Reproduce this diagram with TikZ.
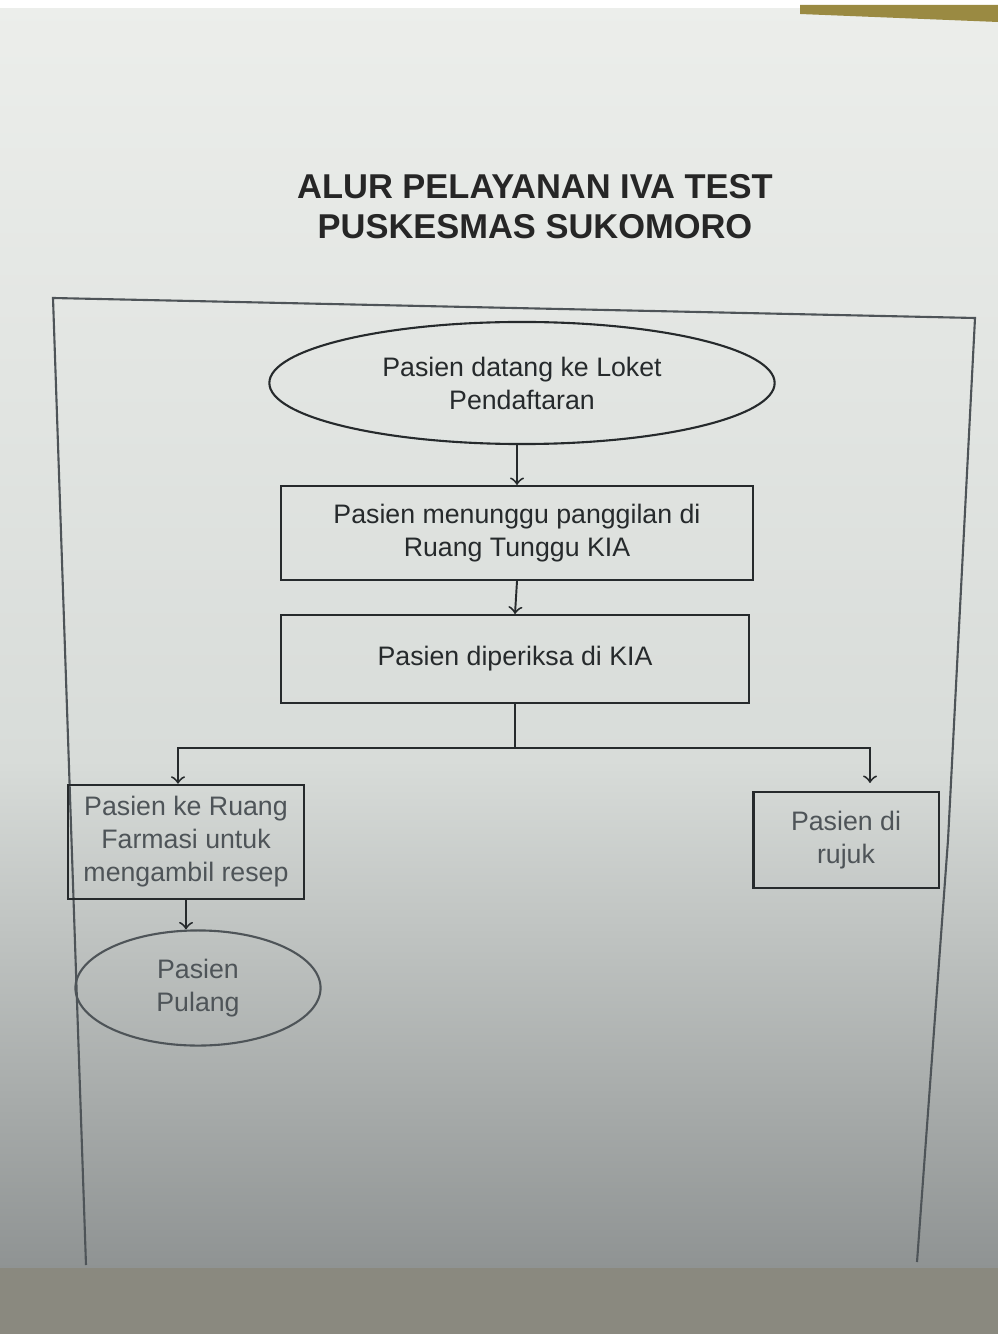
\documentclass[tikz,border=0pt]{standalone}
\usepackage{fontspec}
\setmainfont{Liberation Sans}
\usepackage{tikz}
\usetikzlibrary{shapes.geometric, positioning, arrows}

\definecolor{paperTop}{HTML}{ECEEEB}
\definecolor{paperMid}{HTML}{D8DCD9}
\definecolor{paperLow}{HTML}{8F9393}
\definecolor{deskGray}{HTML}{8A897F}
\definecolor{inkDark}{HTML}{262A2C}
\definecolor{inkSoft}{HTML}{4E5458}
\definecolor{rimGold}{HTML}{9A8A42}

\begin{document}
\begin{tikzpicture}[x=0.01cm, y=-0.01cm,
		proc/.style = {draw = inkDark, line width = 0.6pt, rectangle, align = center, font = \fontsize{7.6}{9.4}\selectfont, text = inkDark},
		term/.style = {draw = inkDark, line width = 0.6pt, ellipse, align = center, font = \fontsize{7.6}{9.4}\selectfont, text = inkDark},
		link/.style = {draw = inkDark, line width = 0.55pt},
		>=to]
		% photo background
		\useasboundingbox (0, 0) rectangle (998, 1334);
		\shade[top color = paperTop, bottom color = paperMid] (0, 0) rectangle (998, 760);
		\shade[top color = paperMid, middle color = paperMid!80!paperLow, bottom color = paperLow] (0, 760) rectangle (998, 1268);
		\fill[deskGray] (0, 1268) rectangle (998, 1334);
		\fill[white] (0, 0) rectangle (998, 8);
		\fill[rimGold] (800, 5) -- (998, 5) -- (998, 22) -- (800, 14) -- cycle;
		% title
		\node[font = \fontsize{9.8}{11.4}\selectfont\bfseries, text = black!85, align = center] (title) at (535, 207) {ALUR PELAYANAN IVA TEST\\PUSKESMAS SUKOMORO};
		% frame
		\draw[inkSoft, line width = 0.6pt] (86, 1265) -- (53, 298) -- (975, 318) -- (948, 840) -- (917, 1262);
		% flow
		\node[term, minimum width = 5.05cm, minimum height = 1.22cm] (start) at (522, 383) {Pasien datang ke Loket\\Pendaftaran};
		\node[proc, minimum width = 4.72cm, minimum height = 0.94cm] (wait) at (517, 533) {Pasien menunggu panggilan di\\Ruang Tunggu KIA};
		\node[proc, minimum width = 4.67cm, minimum height = 0.88cm] (exam) at (515, 659) {Pasien diperiksa di KIA};
		\node[proc, minimum width = 2.36cm, minimum height = 1.10cm, text = inkSoft] (farm) at (186, 842) {Pasien ke Ruang\\Farmasi untuk\\mengambil resep};
		\node[proc, minimum width = 1.85cm, minimum height = 0.96cm, text = inkSoft] (rujuk) at (846, 840) {Pasien di\\rujuk};
		\node[term, draw = inkSoft, minimum width = 2.45cm, minimum height = 1.13cm, text = inkSoft] (home) at (198, 988) {Pasien\\Pulang};
		\draw[link, ->] (wait.north |- start.south) -- (wait.north);
		\draw[link, ->] (wait.south) -- (exam.north);
		\draw[link] (exam.south) -- ++(0, 44) coordinate (split);
		\draw[link, ->] (split) -| ([xshift = -0.08cm] farm.north);
		\draw[link, ->] (split) -| ([xshift = 0.24cm, yshift = 0.08cm] rujuk.north);
		\draw[link, ->] (farm.south) -- (farm.south |- home.north);
\end{tikzpicture}
\end{document}
